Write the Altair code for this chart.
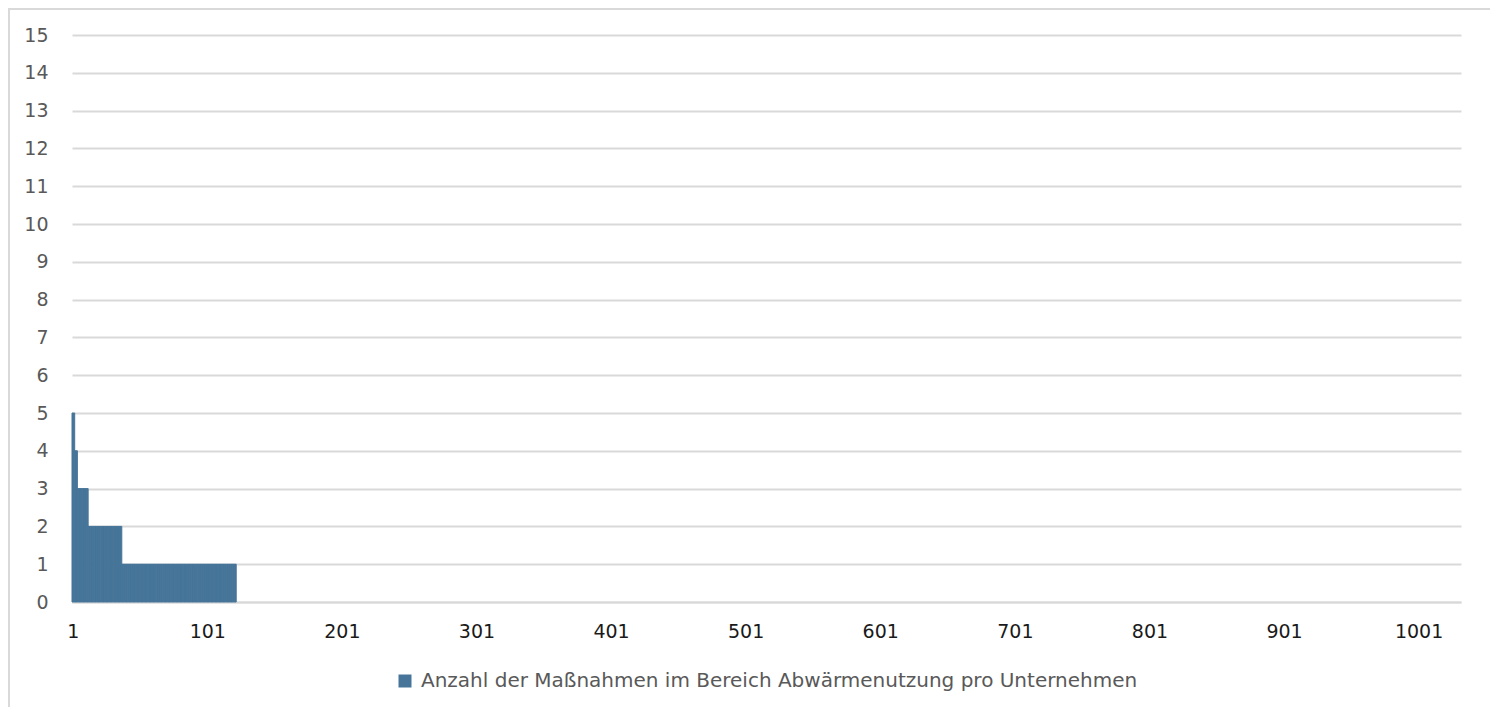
import altair as alt
import pandas as pd

series_name = "Anzahl der Maßnahmen im Bereich Abwärmenutzung pro Unternehmen"
# measures per company, sorted descending, as runs (value, number of companies)
run_values = [5, 4, 3, 2, 1, 0]
run_lengths = [2, 2, 8, 25, 85, 910]
x_tick_labels = [1, 101, 201, 301, 401, 501, 601, 701, 801, 901, 1001]
y_ticks = list(range(0, 16))

rows = []
company = 1
for v, n in zip(run_values, run_lengths):
    for _ in range(n):
        rows.append({"company": company, "start": company - 0.5, "end": company + 0.5,
                     "count": v, "series": series_name})
        company += 1
df = pd.DataFrame(rows)
n_companies = company - 1

W, H = 1389, 567
FONT = "DejaVu Sans"
GRID = "#d9d9d9"
BAR = "#467599"

bars = alt.Chart(df).transform_filter("datum.count > 0").mark_bar(
    color=BAR, stroke=BAR, strokeWidth=1).encode(
    x=alt.X("start:Q",
            scale=alt.Scale(domain=[0.5, n_companies + 0.5], nice=False, zero=False),
            axis=alt.Axis(values=x_tick_labels, title=None, grid=False, ticks=False,
                          domainColor=GRID, domainWidth=2, labelColor="#1a1a1a",
                          labelFontSize=19, labelFont=FONT, labelPadding=20,
                          labelFlush=False, labelOverlap=False, format="d")),
    x2="end:Q",
    y=alt.Y("count:Q",
            scale=alt.Scale(domain=[0, 15], nice=False),
            axis=alt.Axis(values=y_ticks, title=None, domain=False, ticks=False,
                          gridColor=GRID, gridWidth=2, labelColor="#595959",
                          labelFontSize=19, labelFont=FONT, labelPadding=24)),
    y2=alt.datum(0),
    color=alt.Color("series:N", scale=alt.Scale(range=[BAR]),
                    legend=alt.Legend(title=None, orient="none", legendX=323, legendY=636,
                                      symbolType="square", symbolSize=169,
                                      symbolStrokeWidth=0,
                                      labelFontSize=20, labelFont=FONT,
                                      labelColor="#595959", labelOffset=6,
                                      padding=0, labelLimit=2000)),
)

frame = alt.Data(values=[{"k": 1}])
left_rule = alt.Chart(frame).mark_rule(color=GRID, strokeWidth=2).encode(
    x=alt.value(-63), y=alt.value(-27), y2=alt.value(H + 130))
top_rule = alt.Chart(frame).mark_rule(color=GRID, strokeWidth=2).encode(
    x=alt.value(-64), x2=alt.value(W + 40), y=alt.value(-26))

chart = alt.layer(bars, left_rule, top_rule).properties(
    width=W, height=H,
    autosize=alt.AutoSizeParams(type="none"),
    padding={"left": 64, "top": 27, "right": 29, "bottom": 105},
    background="white",
).configure_view(strokeWidth=0)

chart.save("out.html", embed_options={"renderer": "svg", "actions": False})
